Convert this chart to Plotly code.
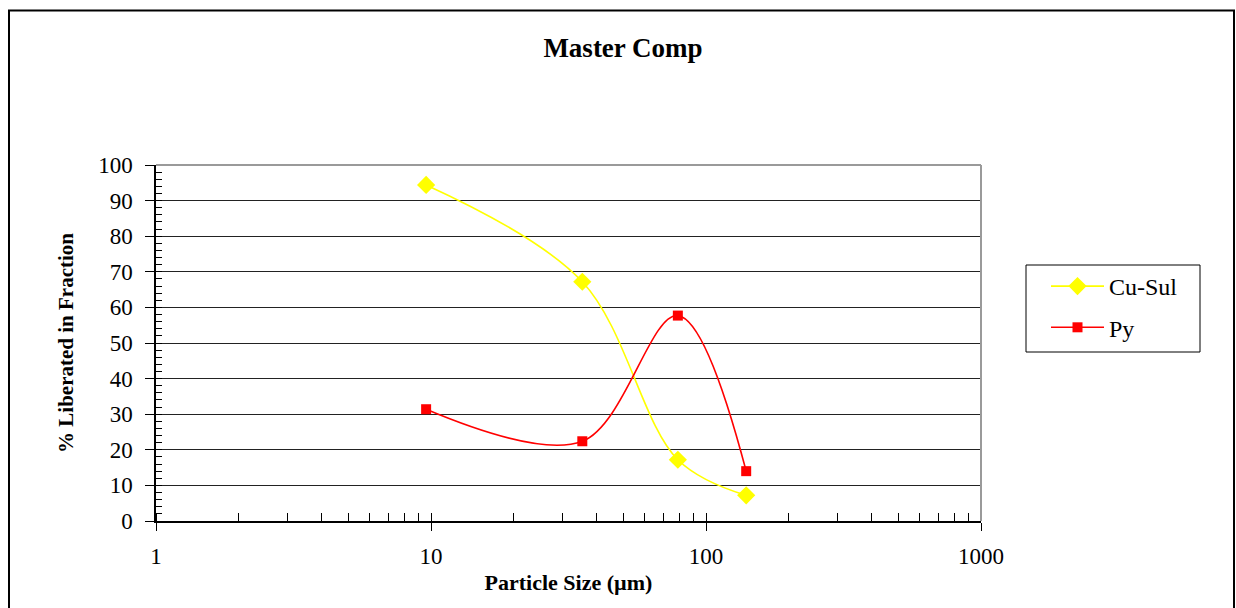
import plotly.graph_objects as go

# Data
particle_size = [9.6, 35.5, 79, 140]
cu_sul = [94.4, 67.2, 17.2, 7.2]
py = [31.4, 22.4, 57.7, 14.0]

series_names = ["Cu-Sul", "Py"]
x_tick_vals = [1, 10, 100, 1000]
x_tick_text = ["1", "10", "100", "1000"]
y_tick_vals = list(range(0, 101, 10))

FONT = "Liberation Serif"

W, H = 1236, 608
L, T = 156, 165
PW, PH = 825, 356


def px(x):
    return (x - L) / PW


def py_(y):
    return (T + PH - y) / PH


fig = go.Figure()
fig.add_trace(go.Scatter(
    x=particle_size, y=cu_sul, name=series_names[0], mode="lines+markers",
    line=dict(color="#FFFF00", width=1.6, shape="spline", smoothing=1),
    marker=dict(symbol="diamond", size=14, color="#FFFF00"),
    legendgroup="a",
))
fig.add_trace(go.Scatter(
    x=particle_size, y=py, name=series_names[1], mode="lines+markers",
    line=dict(color="#FF0000", width=1.6, shape="spline", smoothing=1),
    marker=dict(symbol="square", size=10, color="#FF0000"),
    legendgroup="b",
))

fig.update_layout(
    width=W, height=H,
    margin=dict(l=L, r=W - L - PW, t=T, b=H - T - PH, autoexpand=False),
    paper_bgcolor="white", plot_bgcolor="white",
    font=dict(family=FONT, color="black"),
    title=dict(text="Master Comp", x=px(623), xref="paper", xanchor="center",
               y=1 - 48 / H, yref="container", yanchor="middle",
               font=dict(family=FONT, size=27, weight="bold", color="black")),
    showlegend=True,
    legend=dict(x=px(1046), y=py_(264), xanchor="left", yanchor="top",
                borderwidth=0, bgcolor="rgba(0,0,0,0)",
                font=dict(family=FONT, size=24), tracegroupgap=7,
                traceorder="grouped", itemwidth=53),
    xaxis=dict(type="log", range=[0, 3], tickvals=x_tick_vals, ticktext=x_tick_text,
               automargin=False,
               showgrid=False, zeroline=False, showline=True, linecolor="black", linewidth=1.5,
               ticks="outside", ticklen=8, tickcolor="black", tickwidth=1,
               ticklabelstandoff=6,
               minor=dict(ticks="inside", ticklen=8, tickcolor="black", tickwidth=1,
                          dtick="D1", showgrid=False),
               tickfont=dict(family=FONT, size=23),
               title=dict(text="Particle Size (µm)", standoff=6,
                          font=dict(family=FONT, size=22, weight="bold"))),
    yaxis=dict(range=[0, 100], tickvals=y_tick_vals,
               automargin=False,
               showgrid=True, gridcolor="#222222", gridwidth=1,
               zeroline=False, showline=True, linecolor="black", linewidth=1.5,
               ticks="outside", ticklen=9, tickcolor="black", tickwidth=1,
               ticklabelstandoff=8,
               minor=dict(ticks="inside", ticklen=6, tickcolor="black", tickwidth=1,
                          dtick=2, showgrid=False),
               tickfont=dict(family=FONT, size=23),
               title=dict(text="% Liberated in Fraction", standoff=19,
                          font=dict(family=FONT, size=21, weight="bold"))),
)

# Plot-area border (top & right, grey)
fig.add_shape(type="line", xref="paper", yref="paper", x0=0, x1=1, y0=1, y1=1,
              line=dict(color="#9a9a9a", width=2), layer="above")
fig.add_shape(type="line", xref="paper", yref="paper", x0=1, x1=1, y0=0, y1=1,
              line=dict(color="#9a9a9a", width=2), layer="above")
# Legend frame
fig.add_shape(type="rect", xref="paper", yref="paper",
              x0=px(1026), x1=px(1200), y0=py_(352), y1=py_(265),
              line=dict(color="black", width=1), fillcolor="rgba(0,0,0,0)", layer="below")
# Outer chart border
fig.add_shape(type="rect", xref="paper", yref="paper",
              x0=px(9), x1=px(1234), y0=py_(640), y1=py_(10.5),
              line=dict(color="black", width=2), fillcolor="rgba(0,0,0,0)", layer="below")

fig.write_html("out.html", config={"displayModeBar": False},
               post_script="document.body.style.margin='0';document.body.style.overflow='hidden';")
